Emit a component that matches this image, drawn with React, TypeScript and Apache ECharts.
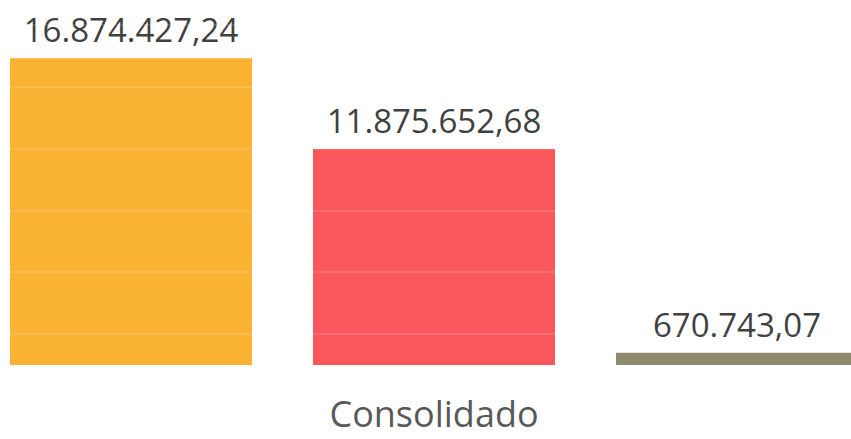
import React, { useEffect, useRef } from "react";
import * as echarts from "echarts";

const categories = ["Consolidado"];
const seriesNames = ["Série 1", "Série 2", "Série 3"];
const seriesValues = [16874427.24, 11875652.68, 670743.07];
const seriesColors = ["#FAB233", "#F9575C", "#8D8B6C"];

function fmtBR(v: number): string {
  const fixed = v.toFixed(2);
  const [intPart, dec] = fixed.split(".");
  const withDots = intPart.replace(/\B(?=(\d{3})+(?!\d))/g, ".");
  return withDots + "," + dec;
}

export default function App() {
  const ref = useRef<HTMLDivElement>(null);
  useEffect(() => {
    if (!ref.current) return;
    const chart = echarts.init(ref.current, undefined, { renderer: "svg" });
    chart.setOption({
      animation: false,
      backgroundColor: "#ffffff",
      grid: [
        { left: 0, right: 0, top: 25, bottom: 74 },
        { left: 0, right: 0, top: 25, bottom: 105 },
      ],
      xAxis: [
        {
          type: "category",
          gridIndex: 0,
          data: categories,
          axisLine: { show: false },
          axisTick: { show: false },
          axisLabel: {
            color: "#595959",
            fontSize: 36,
            lineHeight: 34,
            fontFamily: "Open Sans",
            margin: 31,
          },
        },
        {
          type: "category",
          gridIndex: 1,
          data: [""],
          show: false,
        },
      ],
      yAxis: [
        {
          type: "value",
          gridIndex: 0,
          min: 0,
          max: 18700000,
          show: false,
          splitLine: { show: false },
        },
        {
          type: "value",
          gridIndex: 1,
          min: 0,
          max: 5,
          interval: 1,
          z: 10,
          axisLine: { show: false },
          axisTick: { show: false },
          axisLabel: { show: false },
          splitLine: {
            show: true,
            lineStyle: { color: "rgba(255,255,255,0.18)", width: 1.5 },
          },
        },
      ],
      series: seriesValues.map((v, i) => ({
        name: seriesNames[i],
        type: "bar",
        xAxisIndex: 0,
        yAxisIndex: 0,
        data: [v],
        barWidth: 242,
        barGap: "25.2%",
        itemStyle: { color: seriesColors[i] },
        label: {
          show: true,
          position: "top",
          distance: 12,
          color: "#404040",
          fontSize: 33,
          fontFamily: "Open Sans",
          formatter: (p: any) => fmtBR(p.value as number),
        },
      })),
    });
    return () => chart.dispose();
  }, []);
  return (
    <div
      style={{
        position: "fixed",
        left: 0,
        top: 0,
        width: 851,
        height: 439,
        overflow: "hidden",
        background: "#fff",
      }}
    >
      <div ref={ref} style={{ width: 868, height: 439 }} />
    </div>
  );
}
